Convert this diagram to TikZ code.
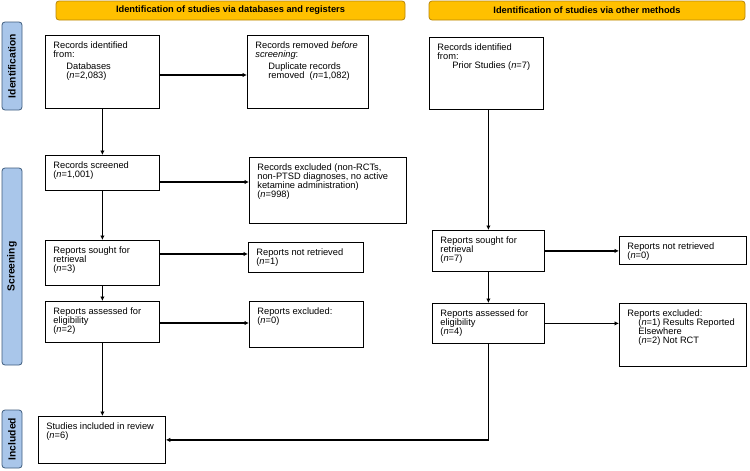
\documentclass[tikz,border=0pt]{standalone}
\usepackage{fontspec}
\setmainfont{Liberation Sans}
\usetikzlibrary{positioning,arrows.meta}
\definecolor{prismagold}{HTML}{FFC000}
\definecolor{goldline}{HTML}{B8860B}
\definecolor{prismablue}{HTML}{A9C6EA}
\definecolor{blueline}{HTML}{3E5C7E}
\def\nn{\textit{n}}
\def\ind{\hspace*{13pt}}
% text of a box: inner width, inner height, lines
\newcommand{\boxtxt}[3]{\parbox[c][#2][t]{#1}{\raggedright #3}}

\begin{document}
\begin{tikzpicture}[%
        x=1pt, y=-1pt,
        arr/.style={-{Latex[length=4.5pt,width=4.5pt]}, line width=1.8pt},
        flow/.style={%
          draw,
          line width=0.8pt,
          anchor=north west,
          inner xsep=8pt, inner ysep=6pt,
          font=\fontsize{9.3}{9.2}\selectfont
        },
        head/.style={draw=goldline, fill=prismagold, rounded corners=3pt,
          line width=0.8pt, minimum height=19pt, inner sep=0pt,
          font=\bfseries\fontsize{9.3}{10}\selectfont},
        side/.style={draw=blueline, fill=prismablue, rounded corners=3pt,
          line width=0.8pt, rotate=90, minimum height=20pt, inner sep=0pt,
          font=\bfseries\fontsize{10.3}{11}\selectfont}
      ]
      \useasboundingbox (0,0) rectangle (750,471);
      % headers and phases
      \node[head, minimum width=349pt] (h1) at (230.5,10.5) {Identification of studies via databases and registers};
      \node[head, minimum width=316pt] (h2) at (587,10.5) {Identification of studies via other methods};
      \node[side, minimum width=88pt] (p1) at (12,66) {Identification};
      \node[side, minimum width=197pt] (p2) at (12,266.5) {Screening};
      \node[side, minimum width=58pt] (p3) at (12,439) {Included};
      % databases and registers
      \node[flow] (db) at (45,35) {\boxtxt{98pt}{61pt}{Records identified\\ from:\\[2.5pt] \ind Databases\\ \ind(\nn=2,083)}};
      \node[flow] (dup) at (247,35) {\boxtxt{105pt}{61pt}{Records removed \textit{before}\\ \textit{screening}:\\[2.5pt] \ind Duplicate records\\ \ind removed\ \ (\nn=1,082)}};
      \node[flow] (scr) at (45,155) {\boxtxt{98pt}{23pt}{Records screened\\ (\nn=1,001)}};
      \node[flow] (exc) at (249,157) {\boxtxt{141pt}{54pt}{Records excluded (non-RCTs,\\ non-PTSD diagnoses, no active\\ ketamine administration)\\ (\nn=998)}};
      \node[flow] (sought) at (45,240) {\boxtxt{98pt}{33pt}{Reports sought for\\ retrieval\\ (\nn=3)}};
      \node[flow] (notret) at (248,242) {\boxtxt{99pt}{18pt}{Reports not retrieved\\ (\nn=1)}};
      \node[flow] (elig) at (45,301) {\boxtxt{98pt}{29pt}{Reports assessed for\\ eligibility\\ (\nn=2)}};
      \node[flow] (rexc) at (249,301) {\boxtxt{98pt}{34pt}{Reports excluded:\\ (\nn=0)}};
      \node[flow] (incl) at (38,416) {\boxtxt{111pt}{35pt}{Studies included in review\\ (\nn=6)}};
      % other methods
      \node[flow] (prior) at (429,37) {\boxtxt{98pt}{60pt}{Records identified\\ from:\\ \hspace*{15pt}Prior Studies (\nn=7)}};
      \node[flow] (osought) at (432,230) {\boxtxt{96pt}{29pt}{Reports sought for\\ retrieval\\ (\nn=7)}};
      \node[flow] (onotret) at (619,236) {\boxtxt{111pt}{16pt}{Reports not retrieved\\ (\nn=0)}};
      \node[flow] (oelig) at (432,303) {\boxtxt{96pt}{28pt}{Reports assessed for\\ eligibility\\ (\nn=4)}};
      \node[flow] (orexc) at (619,303) {\boxtxt{111pt}{51pt}{Reports excluded:\\ \hspace*{11pt}(\nn=1) Results Reported\\ \hspace*{11pt}Elsewhere\\ \hspace*{11pt}(\nn=2) Not RCT}};
      % connectors
      \path (db) edge[arr] (scr)
      (scr) edge[arr] (sought)
      (sought) edge[arr] (elig)
      (elig.south) edge[arr] (elig.south |- incl.north)
      (db.east |- 0,75) edge[arr] (dup.west |- 0,75)
      (scr.east |- 0,182) edge[arr] (exc.west |- 0,182)
      (sought.east |- 0,254) edge[arr] (notret.west |- 0,254)
      (elig.east |- 0,323) edge[arr] (rexc.west |- 0,323);
      \path (prior.south -| osought.north) edge[arr] (osought.north)
      (osought) edge[arr] (onotret.west |- osought)
      (osought) edge[arr] (oelig)
      (oelig) edge[arr] (orexc.west |- oelig);
      \draw[arr] (oelig.south) |- (incl.east);
  \end{tikzpicture}
\end{document}
